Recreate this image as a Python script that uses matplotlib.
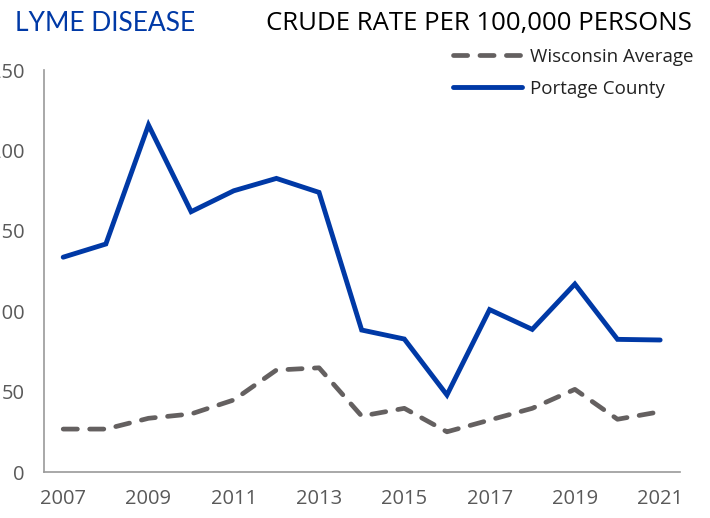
import matplotlib
matplotlib.use("Agg")
from matplotlib import pyplot as plt

years = list(range(2007, 2022))
portage = [133.6, 141.8, 215.8, 161.9, 174.9, 182.6, 173.9, 88.3, 82.7, 47.9,
           101.0, 88.7, 116.9, 82.5, 82.1]
wisconsin = [26.7, 26.7, 33.4, 36.1, 44.8, 63.4, 64.8, 34.8, 39.6, 25.0,
             32.3, 39.6, 51.4, 32.8, 37.5]
yticks = [0, 50, 100, 150, 200, 250]
xticks = list(range(2007, 2022, 2))

BLUE = "#0039a6"
GRAY = "#646060"
TXT = "#595959"

plt.rcParams['font.family'] = ['Open Sans', 'DejaVu Sans']

fig = plt.figure(figsize=(7.1, 5.18), dpi=100)
ax = fig.add_axes([0.062, 0.0888, 0.896, 0.776])

ax.plot(years, wisconsin, color=GRAY, lw=3.4, dashes=(3.0, 2.6),
        dash_capstyle='round', solid_capstyle='round', label='Wisconsin Average')
ax.plot(years, portage, color=BLUE, lw=3.5, solid_capstyle='round',
        solid_joinstyle='miter', label='Portage County')

ax.set_xlim(2006.55, 2021.47)
ax.set_ylim(0, 250)
ax.set_xticks(xticks)
ax.set_yticks(yticks)
ax.tick_params(length=0, labelsize=14.5, labelcolor=TXT)
ax.tick_params(axis='x', pad=12)
ax.tick_params(axis='y', pad=14)
for s in ['top', 'right']:
    ax.spines[s].set_visible(False)
for s in ['left', 'bottom']:
    ax.spines[s].set_color('#999999')
    ax.spines[s].set_linewidth(1.2)

fig.text(0.021, 0.955, "LYME DISEASE", color=BLUE, fontsize=19,
         family=['Lato', 'DejaVu Sans'], va='center', ha='left')
fig.text(0.975, 0.955, "CRUDE RATE PER 100,000 PERSONS", color='black',
         fontsize=18.5, va='center', ha='right')

leg = ax.legend(loc='upper left', bbox_to_anchor=(0.643, 1.055), frameon=False,
                fontsize=13.5, handlelength=3.7, handletextpad=0.4,
                labelspacing=0.75, borderaxespad=0, borderpad=0)
for t in leg.get_texts():
    t.set_color('#222222')

fig.savefig("out.png", dpi=100)
